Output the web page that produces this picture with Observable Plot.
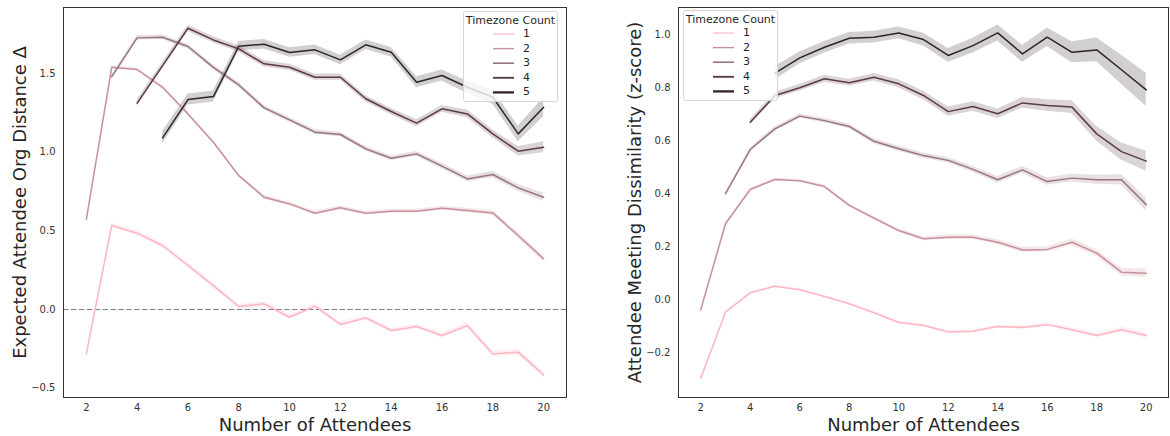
<!DOCTYPE html>
<html>
<head>
<meta charset="utf-8">
<script src="https://cdn.jsdelivr.net/npm/d3@7"></script>
<script src="https://cdn.jsdelivr.net/npm/@observablehq/plot@0.6"></script>
<style>
  html, body { margin: 0; padding: 0; background: #fff; }
  #wrap { position: relative; width: 1170px; height: 436px; font-family: "DejaVu Sans", sans-serif; }
  .panel { position: absolute; top: 0; }
  .legend { position: absolute; background: rgba(255,255,255,0.8); border: 1px solid #d6d6d6; border-radius: 3px; box-sizing: border-box; }
  .legend .title { position: absolute; left: 0; right: 0; text-align: center; font-size: 11px; color: #262626; line-height: 1; }
  .legend .num { position: absolute; font-size: 11px; color: #262626; line-height: 1; }
  .legend svg { position: absolute; left: 0; top: 0; overflow: visible; }
</style>
</head>
<body>
<div id="wrap"></div>
<script>
// ---- shared ----
const tzCounts = [1, 2, 3, 4, 5];
const tzColors = ["#ffb6c3", "#c7909a", "#977480", "#5b3b46", "#302428"];
const xTicks = [2, 4, 6, 8, 10, 12, 14, 16, 18, 20];
const xLabel = "Number of Attendees";
const legendTitle = "Timezone Count";

// ---- left panel: Expected Attendee Org Distance Δ ----
const leftYLabel = "Expected Attendee Org Distance Δ";
const leftYTicks = [-0.5, 0.0, 0.5, 1.0, 1.5];
const leftStart = [2, 2, 3, 4, 5];
const leftTz1 = [-0.282, 0.534, 0.485, 0.407, 0.280, 0.152, 0.019, 0.036, -0.049, 0.021, -0.095, -0.053, -0.133, -0.108, -0.165, -0.102, -0.282, -0.271, -0.415];
const leftTz2 = [0.572, 1.539, 1.525, 1.412, 1.243, 1.063, 0.851, 0.713, 0.671, 0.612, 0.646, 0.612, 0.625, 0.625, 0.644, 0.629, 0.614, 0.470, 0.322];
const leftTz3 = [1.480, 1.726, 1.730, 1.671, 1.539, 1.427, 1.281, 1.205, 1.127, 1.112, 1.021, 0.961, 0.989, 0.911, 0.830, 0.858, 0.773, 0.713];
const leftTz4 = [1.311, 1.550, 1.787, 1.713, 1.656, 1.561, 1.539, 1.476, 1.476, 1.339, 1.258, 1.184, 1.275, 1.243, 1.116, 1.006, 1.031];
const leftTz5 = [1.091, 1.334, 1.353, 1.673, 1.686, 1.633, 1.650, 1.586, 1.682, 1.635, 1.444, 1.487, 1.412, 1.349, 1.116, 1.285];
// confidence-band half widths
const leftCi1 = [0.005, 0.015, 0.015, 0.015, 0.015, 0.015, 0.015, 0.015, 0.015, 0.015, 0.015, 0.015, 0.015, 0.015, 0.015, 0.018, 0.018, 0.02, 0.02];
const leftCi2 = [0.005, 0.01, 0.01, 0.01, 0.01, 0.01, 0.01, 0.012, 0.012, 0.012, 0.012, 0.012, 0.012, 0.012, 0.012, 0.014, 0.015, 0.018, 0.02];
const leftCi3 = [0.012, 0.015, 0.015, 0.015, 0.015, 0.015, 0.015, 0.015, 0.015, 0.015, 0.015, 0.015, 0.015, 0.018, 0.018, 0.02, 0.022, 0.025];
const leftCi4 = [0.02, 0.02, 0.02, 0.02, 0.02, 0.02, 0.02, 0.02, 0.02, 0.02, 0.02, 0.022, 0.022, 0.025, 0.025, 0.03, 0.035];
const leftCi5 = [0.04, 0.035, 0.035, 0.03, 0.03, 0.03, 0.03, 0.03, 0.03, 0.03, 0.035, 0.035, 0.04, 0.045, 0.05, 0.06];

// ---- right panel: Attendee Meeting Dissimilarity (z-score) ----
const rightYLabel = "Attendee Meeting Dissimilarity (z-score)";
const rightYTicks = [-0.2, 0.0, 0.2, 0.4, 0.6, 0.8, 1.0];
const rightStart = [2, 2, 3, 4, 5];
const rightTz1 = [-0.297, -0.048, 0.025, 0.050, 0.037, 0.011, -0.016, -0.050, -0.087, -0.098, -0.123, -0.120, -0.102, -0.106, -0.095, -0.114, -0.136, -0.114, -0.136];
const rightTz2 = [-0.039, 0.286, 0.415, 0.453, 0.448, 0.426, 0.355, 0.307, 0.260, 0.229, 0.235, 0.235, 0.216, 0.187, 0.189, 0.216, 0.175, 0.103, 0.099];
const rightTz3 = [0.399, 0.566, 0.644, 0.692, 0.675, 0.653, 0.597, 0.569, 0.543, 0.525, 0.491, 0.452, 0.489, 0.445, 0.458, 0.452, 0.452, 0.358];
const rightTz4 = [0.669, 0.770, 0.799, 0.833, 0.818, 0.839, 0.814, 0.770, 0.709, 0.728, 0.701, 0.742, 0.732, 0.726, 0.625, 0.558, 0.522];
const rightTz5 = [0.854, 0.912, 0.952, 0.986, 0.990, 1.006, 0.981, 0.921, 0.958, 1.006, 0.927, 0.990, 0.933, 0.942, 0.867, 0.791];
const rightCi1 = [0.003, 0.004, 0.004, 0.004, 0.004, 0.004, 0.004, 0.005, 0.005, 0.005, 0.005, 0.006, 0.006, 0.007, 0.007, 0.008, 0.008, 0.01, 0.01];
const rightCi2 = [0.003, 0.004, 0.005, 0.005, 0.005, 0.005, 0.006, 0.006, 0.007, 0.007, 0.008, 0.008, 0.009, 0.01, 0.01, 0.012, 0.013, 0.015, 0.016];
const rightCi3 = [0.006, 0.007, 0.008, 0.008, 0.008, 0.009, 0.009, 0.01, 0.01, 0.01, 0.011, 0.012, 0.013, 0.014, 0.015, 0.017, 0.02, 0.025];
const rightCi4 = [0.01, 0.012, 0.012, 0.013, 0.013, 0.014, 0.015, 0.016, 0.017, 0.018, 0.018, 0.02, 0.022, 0.024, 0.028, 0.033, 0.038];
const rightCi5 = [0.025, 0.022, 0.022, 0.022, 0.022, 0.022, 0.024, 0.026, 0.028, 0.03, 0.032, 0.035, 0.04, 0.045, 0.055, 0.063];

function buildRows(starts, values, cis) {
  const rows = [];
  values.forEach((arr, i) => {
    arr.forEach((v, j) => {
      const ci = cis[i][j];
      rows.push({tz: tzCounts[i], x: starts[i] + j, y: v, lo: v - ci, hi: v + ci});
    });
  });
  return rows;
}

const fmt = d3.format(".1f");

function panel({rows, yDomain, yTicks, yLabel, zeroLine, marginLeft, marginRight}) {
  return Plot.plot({
    width: 585,
    height: 436,
    marginTop: 7,
    marginBottom: 39,
    marginLeft,
    marginRight,
    style: {fontFamily: "DejaVu Sans, sans-serif", fontSize: "10px", color: "#333", background: "transparent", overflow: "visible"},
    x: {domain: [1.1, 20.9]},
    y: {domain: yDomain},
    color: {domain: tzCounts, range: tzColors},
    marks: [
      Plot.areaY(rows, {x: "x", y1: "lo", y2: "hi", z: "tz", fill: "tz", fillOpacity: 0.22, curve: "linear"}),
      zeroLine ? Plot.ruleY([0], {stroke: "#808080", strokeWidth: 1.2, strokeDasharray: "5.5,2.4"}) : null,
      Plot.line(rows, {x: "x", y: "y", z: "tz", stroke: "tz", strokeWidth: 1.5}),
      Plot.axisX({ticks: xTicks, tickSize: 0, tickPadding: 6, label: null, tickFormat: d => String(d)}),
      Plot.axisY({ticks: yTicks, tickSize: 0, tickPadding: 8, label: null, tickFormat: fmt}),
      Plot.frame({stroke: "#333", strokeWidth: 1}),
      Plot.text([yLabel], {text: d => d, frameAnchor: "left", textAnchor: "middle", lineAnchor: "middle", dx: -43, rotate: -90, fontSize: 18, fill: "#262626"}),
      Plot.text([xLabel], {text: d => d, frameAnchor: "bottom", textAnchor: "middle", lineAnchor: "middle", dy: 28, fontSize: 18, fill: "#262626"})
    ]
  });
}

const wrap = document.getElementById("wrap");

const leftChart = panel({
  rows: buildRows(leftStart, [leftTz1, leftTz2, leftTz3, leftTz4, leftTz5], [leftCi1, leftCi2, leftCi3, leftCi4, leftCi5]),
  yDomain: [-0.559, 1.919],
  yTicks: leftYTicks,
  yLabel: leftYLabel,
  zeroLine: true,
  marginLeft: 63,
  marginRight: 19
});
leftChart.classList.add("panel");
leftChart.style.left = "0px";
wrap.appendChild(leftChart);

const rightChart = panel({
  rows: buildRows(rightStart, [rightTz1, rightTz2, rightTz3, rightTz4, rightTz5], [rightCi1, rightCi2, rightCi3, rightCi4, rightCi5]),
  yDomain: [-0.370, 1.102],
  yTicks: rightYTicks,
  yLabel: rightYLabel,
  zeroLine: false,
  marginLeft: 93,
  marginRight: 2
});
rightChart.classList.add("panel");
rightChart.style.left = "585px";
wrap.appendChild(rightChart);

// legends
const legendWidths = [1.2, 1.4, 1.6, 1.9, 2.3];
function legend(left, top) {
  const box = document.createElement("div");
  box.className = "legend";
  box.style.left = left + "px";
  box.style.top = top + "px";
  box.style.width = "95px";
  box.style.height = "91px";
  const t = document.createElement("div");
  t.className = "title";
  t.style.top = "3px";
  t.textContent = legendTitle;
  box.appendChild(t);
  const ns = "http://www.w3.org/2000/svg";
  const svg = document.createElementNS(ns, "svg");
  svg.setAttribute("width", 95);
  svg.setAttribute("height", 91);
  tzCounts.forEach((tz, i) => {
    const cy = 22 + i * 14.6;
    const ln = document.createElementNS(ns, "line");
    ln.setAttribute("x1", 29); ln.setAttribute("x2", 50);
    ln.setAttribute("y1", cy); ln.setAttribute("y2", cy);
    ln.setAttribute("stroke", tzColors[i]);
    ln.setAttribute("stroke-width", legendWidths[i]);
    svg.appendChild(ln);
    const n = document.createElement("div");
    n.className = "num";
    n.style.left = "59px";
    n.style.top = (cy - 6) + "px";
    n.textContent = String(tz);
    box.appendChild(n);
  });
  box.appendChild(svg);
  wrap.appendChild(box);
}
legend(463, 11);
legend(683, 10);
</script>
</body>
</html>
